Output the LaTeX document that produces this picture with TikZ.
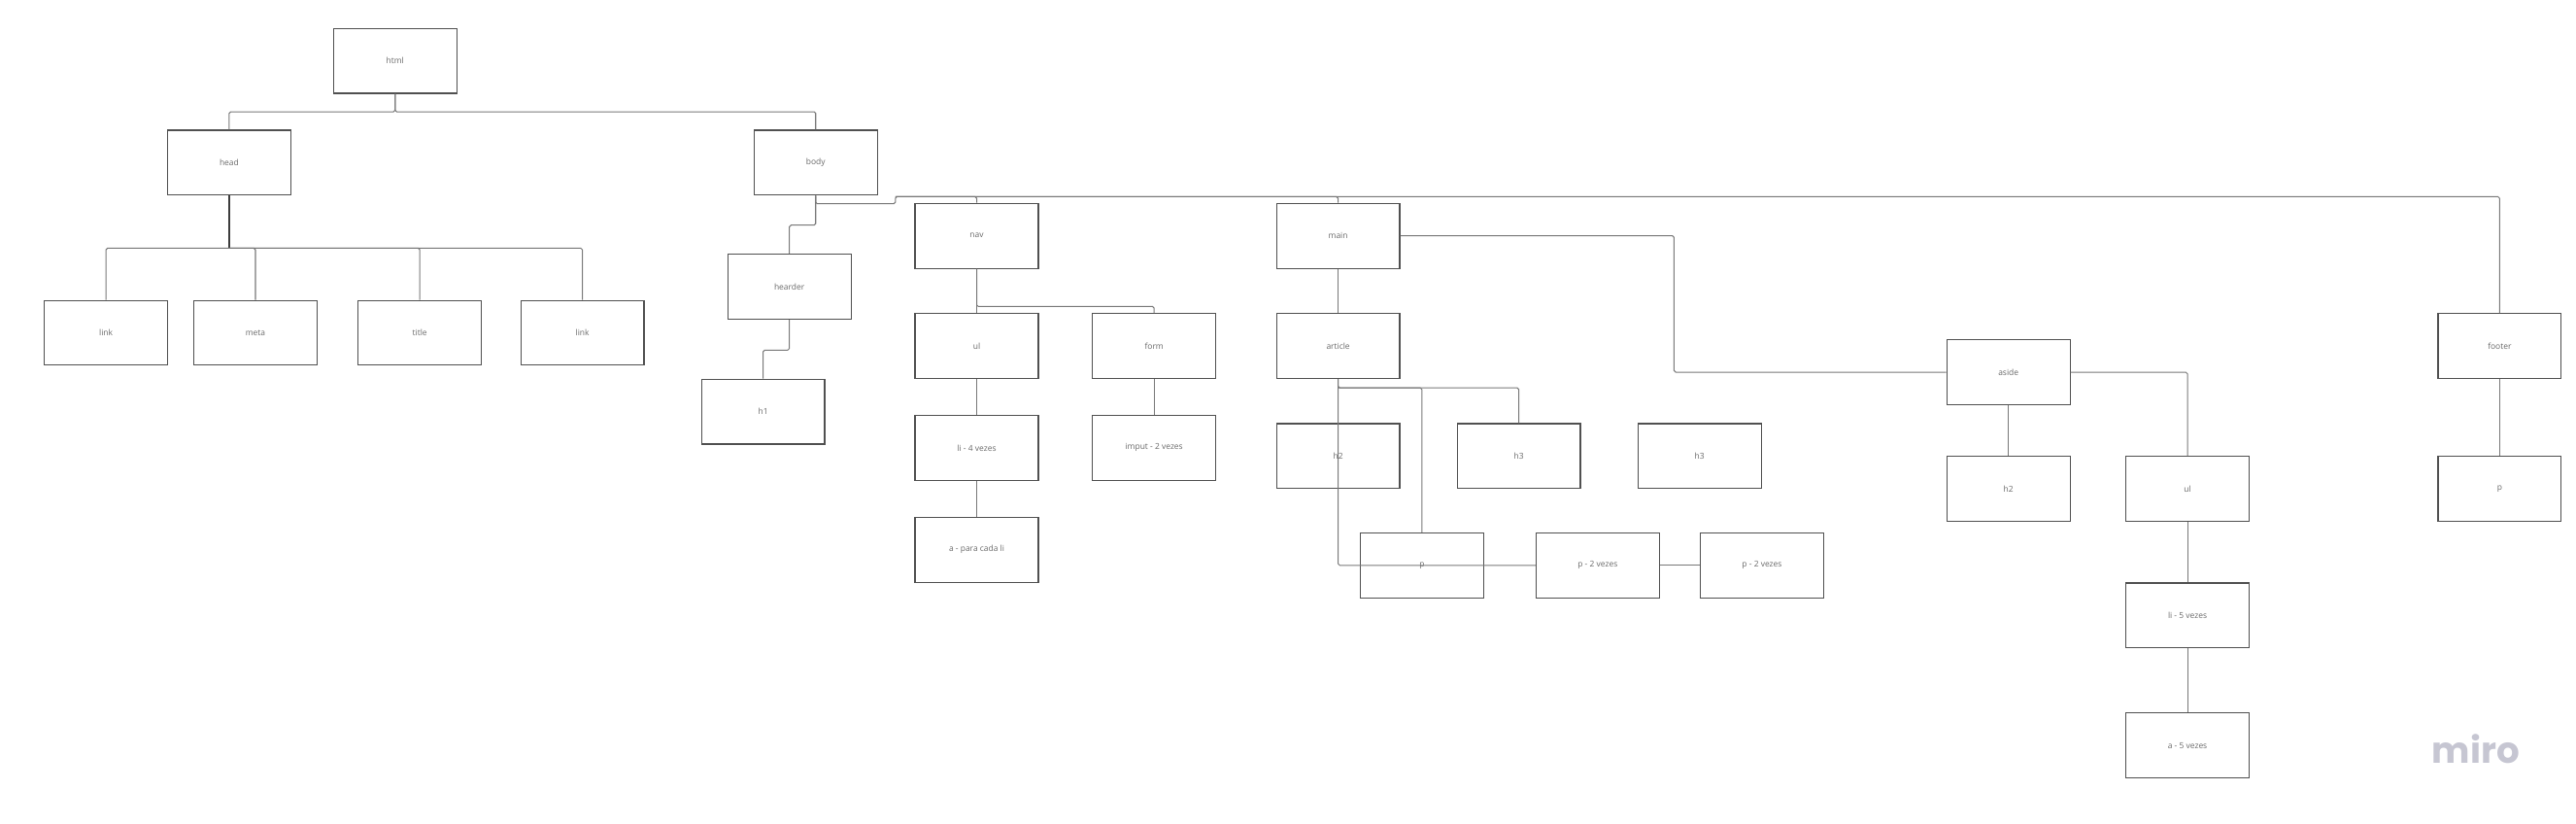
\documentclass[tikz,border=0pt]{standalone}
\usepackage{fontspec}
\setmainfont{Open Sans}
\newfontfamily\mirofont{Poppins}
\definecolor{boxline}{RGB}{80,80,80}
\definecolor{txt}{RGB}{105,105,105}
\definecolor{connc}{RGB}{120,120,120}
\definecolor{connd}{RGB}{60,60,60}
\definecolor{mirogray}{RGB}{198,198,210}
\begin{document}
\begin{tikzpicture}[x=1pt,y=-1pt,
  box/.style={draw=boxline, line width=0.7pt, fill=white, minimum width=75pt,
    minimum height=39.5pt, inner sep=0pt, font=\fontsize{5}{6}\selectfont, text=txt},
  conn/.style={draw=connc, line width=0.6pt, rounded corners=1pt},
  darkconn/.style={draw=connd, line width=0.8pt}]
\useasboundingbox[fill=white] (0,0) rectangle (1568,501);

% boxes
\node[box] (html)    at (240.5,37)   {html};
\node[box] (head)    at (139.5,99)   {head};
\node[box] (body)    at (496.5,99)   {body};
\node[box] (linkA)   at (64.5,202.5) {link};
\node[box] (meta)    at (155.5,202.5){meta};
\node[box] (title)   at (255.5,202.5){title};
\node[box] (linkB)   at (354.5,202.5){link};
\node[box] (hearder) at (480.5,174.5){hearder};
\node[box] (hone)    at (464.5,250.5){h1};
\node[box] (nav)     at (594.5,143.5){nav};
\node[box] (ulnav)   at (594.5,210.5){ul};
\node[box] (form)    at (702.5,210.5){form};
\node[box] (linav)   at (594.5,272.5){li - 4 vezes};
\node[box] (imput)   at (702.5,272.5){imput - 2 vezes};
\node[box] (anav)    at (594.5,334.5){a - para cada li};
\node[box] (main)    at (814.5,143.5){main};
\node[box] (article) at (814.5,210.5){article};
\node[box] (htwo)    at (814.5,277.5){h2};
\node[box] (hthreeA) at (924.5,277.5){h3};
\node[box] (hthreeB) at (1034.5,277.5){h3};
\node[box] (pA)      at (865.5,344)  {p};
\node[box] (pB)      at (972.5,344)  {p - 2 vezes};
\node[box] (pC)      at (1072.5,344) {p - 2 vezes};
\node[box] (aside)   at (1222.5,226.5){aside};
\node[box] (htwoaside) at (1222.5,297.5){h2};
\node[box] (ulaside) at (1331.5,297.5){ul};
\node[box] (liaside) at (1331.5,374.5){li - 5 vezes};
\node[box] (aaside)  at (1331.5,453.5){a - 5 vezes};
\node[box] (footer)  at (1521.5,210.5){footer};
\node[box] (pfooter) at (1521.5,297.5){p};

% junctions
\coordinate (jhtml) at (240.5,68);
\coordinate (jhead) at (139.5,151);
\coordinate (jbodyA) at (496.5,137);
\coordinate (jbodyB) at (496.5,124);
\coordinate (jbodyC) at (545,124);
\coordinate (jbodyD) at (545,119.7);
\coordinate (jhdr) at (480.5,213);
\coordinate (jnav) at (594.5,186.5);
\coordinate (jmain) at (1019,143.5);
\coordinate (jart) at (814.5,236);

% connectors
\draw[conn] (html.south) -- (jhtml) -| (head.north);
\draw[conn] (html.south) -- (jhtml) -| (body.north);

\draw[darkconn] (head.south) -- (jhead);
\foreach \n in {linkA,meta,title,linkB}
  \draw[conn] (jhead) -| (\n.north);

\draw[conn] (body.south) -- (jbodyA) -| (hearder.north);
\draw[conn] (body.south) -- (jbodyB) -- (jbodyC) -- (jbodyD) -| (footer.north);
\draw[conn] (jbodyD) -| (nav.north);
\draw[conn] (jbodyD) -| (main.north);

\draw[conn] (hearder.south) -- (jhdr) -| (hone.north);

\draw[conn] (nav.south) -- (ulnav.north);
\draw[conn] (nav.south) -- (jnav) -| (form.north);
\draw[conn] (ulnav) -- (linav);
\draw[conn] (linav) -- (anav);
\draw[conn] (form) -- (imput);

\draw[conn] (main) -- (article);
\draw[conn] (main.east) -- (jmain) |- (aside.west);

\draw[darkconn] (article.south) -- (htwo.north);
\draw[conn] (article.south) -- (jart) -| (hthreeA.north);
\draw[conn] (jart) -| (pA.north);
\draw[conn] (article.south) |- (pB.west);
\draw[conn] (pB.east) -- (pC.west);

\draw[conn] (aside) -- (htwoaside);
\draw[conn] (aside.east) -| (ulaside.north);
\draw[conn] (ulaside) -- (liaside);
\draw[conn] (liaside) -- (aaside);

\draw[conn] (footer) -- (pfooter);

% logo
\node[anchor=base, inner sep=0pt, text=mirogray,
  font=\mirofont\bfseries\fontsize{22}{22}\selectfont] (miro) at (1507,464.2) {miro};
\end{tikzpicture}
\end{document}
